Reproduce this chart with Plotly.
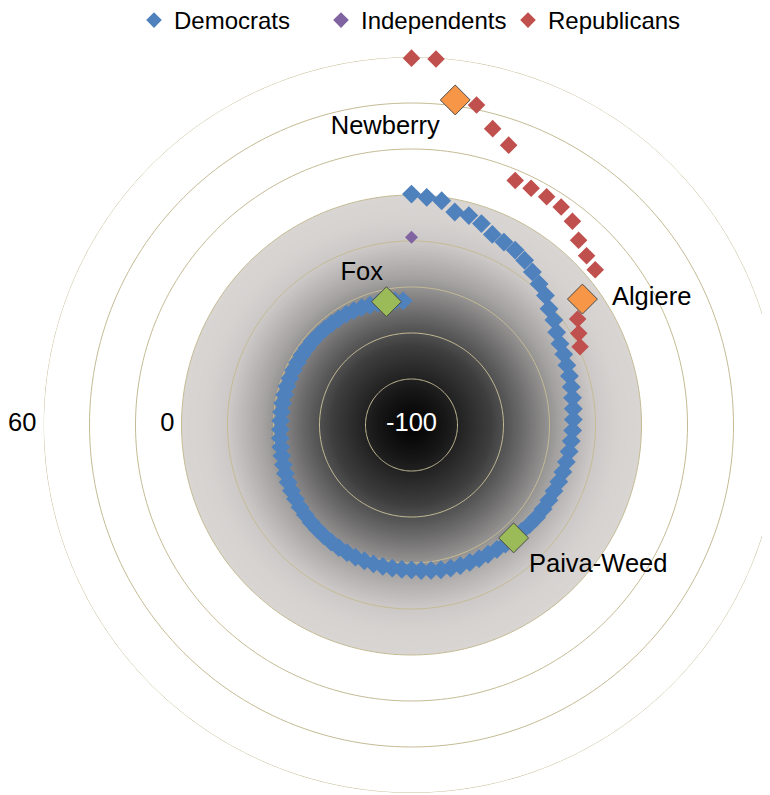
import numpy as np
import plotly.graph_objects as go

# ---------------- data ----------------
N_SEATS = 94  # number of angular categories (ranked members)

DEM = [0.4, -0.8, -1.6, -5.5, -5.6, -7.3, -10.0, -10.9, -11.6, -13.1,
       -15.2, -17.3, -19.0, -21.7, -23.1, -25.1, -26.4, -27.0, -27.6, -28.1,
       -28.6, -29.0, -29.3, -29.6, -29.9, -30.2, -30.5, -30.8, -31.1, -31.4,
       -31.7, -31.9, -32.1, -32.4, -32.9, -33.4, -33.8, -34.1, -34.4, -34.7,
       -34.9, -35.1, -35.3, -35.5, -35.8, -36.2, -36.6, -37.0, -37.1, -37.2,
       -37.3, -37.4, -37.5, -37.6, -37.8, -38.0, -38.3, -38.6, -38.9, -39.2,
       -39.5, -39.8, -40.2, -40.5, -40.9, -41.3, -41.7, -42.1, -42.4, -42.7,
       -43.0, -43.1, -43.2, -43.2, -43.3, -43.3, -43.4, -43.4, -43.5, -43.5,
       -43.6, -43.6, -43.7, -43.8, -43.9, -44.0, -44.1, -44.3, -44.6, -44.9,
       -45.1, -45.3, -45.6, -45.9]

REP = [59.5, 59.5, 42.6, 42.0, 33.6, 28.8, 15.5, 15.3, 15.3, 15.0,
       12.9, 8.3, 5.9, 4.6, -7.7, -14.3, -17.1, -19.2]

IND = [-18.4]

LEADERS = ["Newberry", "Algiere", "Paiva-Weed", "Fox"]
LEADER_PARTY = ["R", "R", "D", "D"]
LEADER_IDX = [2, 14, 36, 91]
LEADER_TEXTPOS = ["bottom left", "middle right", "bottom right", "top center"]

TICK_VALS = [-100, 0, 60]
TICK_TEXT = ["-100", "0", "60"]
GRID_VALS = [-80, -60, -40, -20, 0, 20, 40, 60]
R_MIN, R_MAX = -100, 60

# ---------------- styles ----------------
C_DEM = "#4F81BD"
C_REP = "#C0504D"
C_IND = "#8064A2"
C_REP_LEAD = "#F79646"
C_DEM_LEAD = "#9BBB59"
C_GRID = "#C4BB94"
FONT = "Liberation Sans, Arial, sans-serif"
NB = "\u00a0"
LABEL_SIZE = 25.5


def ang(idx):
    return [i * 360.0 / N_SEATS for i in idx]


fig = go.Figure()

# radial gradient background disk (from -100 to 0)
stops_t = [0.0, 0.15, 0.35, 0.5, 0.65, 0.8, 0.9, 1.0]
stops_c = [(0, 0, 0), (22, 22, 22), (62, 62, 62), (112, 111, 111),
           (165, 163, 162), (204, 200, 199), (214, 210, 208), (217, 213, 211)]
levels = np.arange(100, 0, -1)  # disk radii in axis units above R_MIN
cols = []
for lv in levels:
    t = lv / 100.0
    rgb = [int(round(np.interp(t, stops_t, [c[k] for c in stops_c]))) for k in range(3)]
    cols.append("rgb(%d,%d,%d)" % tuple(rgb))
fig.add_trace(go.Barpolar(
    r=list(levels), base=[R_MIN] * len(levels), theta=[0] * len(levels),
    width=[360] * len(levels), marker=dict(color=cols, line=dict(width=0)),
    showlegend=False, hoverinfo="skip"))

# grid circles
th = np.linspace(0, 360, 241)
gr, gt = [], []
for v in GRID_VALS:
    gr += [v] * len(th) + [None]
    gt += list(th) + [None]
fig.add_trace(go.Scatterpolar(r=gr, theta=gt, mode="lines",
                              line=dict(color=C_GRID, width=1),
                              showlegend=False, hoverinfo="skip"))

# series
fig.add_trace(go.Scatterpolar(
    r=DEM, theta=ang(range(len(DEM))), mode="markers", name="Democrats",
    marker=dict(symbol="diamond", size=14.5, color=C_DEM, line=dict(width=0))))
fig.add_trace(go.Scatterpolar(
    r=IND, theta=ang(range(len(IND))), mode="markers", name="Independents",
    marker=dict(symbol="diamond", size=10, color=C_IND, line=dict(width=0))))
fig.add_trace(go.Scatterpolar(
    r=REP, theta=ang(range(len(REP))), mode="markers", name="Republicans",
    marker=dict(symbol="diamond", size=13.5, color=C_REP, line=dict(width=0))))

# leaders
for name, party, idx, tp in zip(LEADERS, LEADER_PARTY, LEADER_IDX, LEADER_TEXTPOS):
    val = REP[idx] if party == "R" else DEM[idx]
    col = C_REP_LEAD if party == "R" else C_DEM_LEAD
    if tp == "middle right":
        label = NB * 2 + name
    elif tp == "top center":
        label = name + NB * 7
    else:
        label = name
    fig.add_trace(go.Scatterpolar(
        r=[val], theta=ang([idx]), mode="markers+text", text=[label],
        textposition=tp, textfont=dict(family=FONT, size=LABEL_SIZE, color="#000"),
        marker=dict(symbol="diamond", size=23, color=col,
                    line=dict(color="#4A4A4A", width=1)),
        showlegend=False, hoverinfo="skip"))

# radial tick labels
fig.add_trace(go.Scatterpolar(
    r=TICK_VALS, theta=[0, 270, 270], mode="text",
    text=[TICK_TEXT[0], TICK_TEXT[1] + NB, TICK_TEXT[2] + NB],
    textposition=["middle center", "middle left", "middle left"],
    textfont=dict(family=FONT, size=LABEL_SIZE, color=["#FFFFFF", "#000000", "#000000"]),
    showlegend=False, hoverinfo="skip"))

# geometry (figure pixels)
W, H = 780, 795
R_PX = 368.0
CX, CY = 403.5, 417.0
fig.update_layout(
    width=W, height=H,
    margin=dict(l=0, r=0, t=0, b=0, autoexpand=False),
    paper_bgcolor="white",
    font=dict(family=FONT, size=24, color="#000"),
    legend=dict(orientation="h", x=(154 - 8 - 20) / W, xanchor="left",
                y=1.0 + 10.0 / H, yanchor="top",
                font=dict(family=FONT, size=24, color="#000"),
                entrywidth=142, entrywidthmode="pixels",
                itemsizing="constant", bgcolor="rgba(0,0,0,0)"),
    polar=dict(
        domain=dict(x=[(CX - R_PX) / W, (CX + R_PX) / W],
                    y=[(H - CY - R_PX) / H, (H - CY + R_PX) / H]),
        bgcolor="rgba(0,0,0,0)",
        barmode="overlay",
        radialaxis=dict(range=[R_MIN, R_MAX], visible=False, showgrid=False),
        angularaxis=dict(visible=False, direction="clockwise", rotation=90,
                         showgrid=False),
    ),
)

fig.write_html("out.html")
